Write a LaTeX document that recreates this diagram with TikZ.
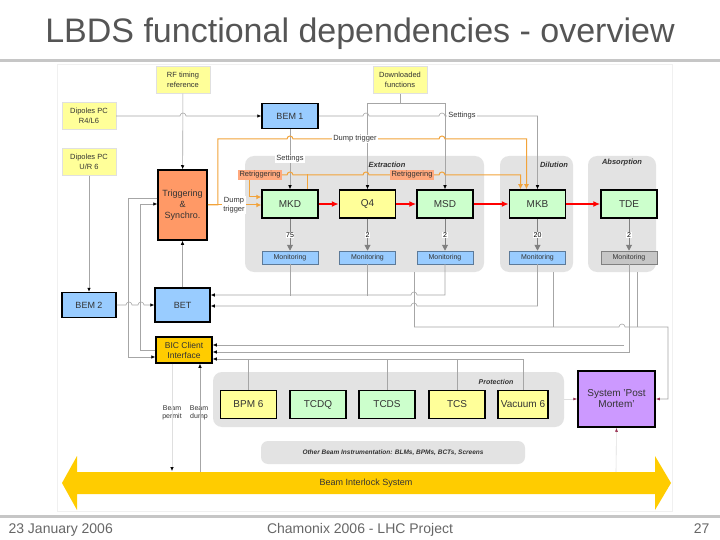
\documentclass[tikz,border=0pt]{standalone}
\usepackage{fontspec}
\setmainfont{Liberation Sans}
\usetikzlibrary{arrows.meta,calc,positioning}
\definecolor{BoxYellow}{HTML}{FFFF99}
\definecolor{BoxGreen}{HTML}{CCFFCC}
\definecolor{BoxBlue}{HTML}{99CCFF}
\definecolor{TrigOrange}{HTML}{FF9966}
\definecolor{BicGold}{HTML}{FFCC00}
\definecolor{PmViolet}{HTML}{CC99FF}
\definecolor{ZoneGray}{HTML}{E3E3E3}
\definecolor{DumpLine}{HTML}{F2A33A}
\definecolor{WireGray}{HTML}{A6A6A6}
\definecolor{TextGray}{HTML}{333333}
\definecolor{TitleGray}{HTML}{555555}
\definecolor{PmArrow}{HTML}{993355}

\begin{document}
\begin{tikzpicture}[x=1pt,y=-1pt,
    modbox/.style={draw=black,line width=1.5pt,minimum width=56,minimum height=28,inner sep=0,
                   align=center,text=TextGray,font=\fontsize{10}{11}\selectfont},
    src/.style={draw=black!12,fill=BoxYellow,minimum width=54,minimum height=27,inner sep=0,
                align=center,text=TextGray,font=\fontsize{7.5}{9.5}\selectfont},
    mon/.style={draw=BoxBlue!60!black,line width=0.4pt,fill=BoxBlue,minimum width=56,minimum height=13,
                inner sep=0,text=TextGray,font=\fontsize{7}{7.5}\selectfont},
    zone/.style={fill=ZoneGray,rounded corners=9pt,inner sep=0},
    zlabel/.style={text=TextGray,font=\fontsize{7.5}{8}\selectfont\bfseries\itshape},
    tag/.style={fill=white,inner sep=1pt,align=center,text=TextGray,font=\fontsize{7.5}{8.5}\selectfont},
    retag/.style={fill=TrigOrange!85,inner sep=1.5pt,text=TextGray,font=\fontsize{7.5}{8}\selectfont},
    num/.style={fill=white,inner sep=0.6pt,text=black,font=\fontsize{7}{8}\selectfont},
    wire/.style={draw=WireGray,line width=0.6pt},
    arr/.style={-{Latex[length=4pt,width=3.5pt,color=black]}},
    dump/.style={draw=DumpLine,line width=1pt,-{Latex[length=5pt,width=5pt]}},
    beam/.style={draw=red,line width=1.6pt,-{Latex[length=7pt,width=6pt]}},
    probe/.style={draw=gray,line width=1pt,-{Triangle[length=6pt,width=6pt]}},
    pmtip/.style={-{Latex[length=4pt,width=3pt,color=PmArrow]}}]
  \useasboundingbox (0,0) rectangle (720,540);
  % title and footer
  \node[anchor=base,text=TitleGray,font=\fontsize{34}{36}\selectfont] (title) at (360,43) {LBDS functional dependencies - overview};
  \draw[gray!45,line width=3pt] (0,61) -- (720,61);
  \draw[gray!45,line width=3pt] (0,516) -- (720,516);
  \node[anchor=base west,text=gray!80!black,font=\fontsize{14}{16}\selectfont] (date) at (5,533) {23 January 2006};
  \node[anchor=base,text=gray!80!black,font=\fontsize{14}{16}\selectfont] (event) at (360,533) {Chamonix 2006 - LHC Project};
  \node[anchor=base east,text=gray!80!black,font=\fontsize{14}{16}\selectfont] (page) at (713,533) {27};
  \draw[gray!12,fill=white] (57,64) rectangle (672,511);

  % zones
  \node[zone,minimum width=239,minimum height=116] (extr) at (364.5,214) {};
  \node[zone,minimum width=73,minimum height=116] (dil) at (536.5,214) {};
  \node[zone,minimum width=68,minimum height=116] (absb) at (622,214) {};
  \node[zone,minimum width=351,minimum height=55] (prot) at (388.5,399.5) {};
  \node[zone,minimum width=264,minimum height=23,rounded corners=7pt,zlabel,font=\fontsize{6.5}{7}\selectfont\bfseries\itshape] (obi) at (393,452.5) {Other Beam Instrumentation: BLMs, BPMs, BCTs, Screens};
  \node[zlabel] (extrlbl) at (387,165) {Extraction};
  \node[zlabel] (dillbl) at (554,165) {Dilution};
  \node[zlabel] (abslbl) at (622,163) {Absorption};
  \node[zlabel,font=\fontsize{7}{8}\selectfont\bfseries\itshape] (protlbl) at (496,382) {Protection};

  % sources
  \node[src] (rf) at (183,80) {RF timing\\reference};
  \node[src] (dl) at (400,80) {Downloaded\\functions};
  \node[src] (dip1) at (89,116) {Dipoles PC\\R4/L6};
  \node[src] (dip2) at (89,162) {Dipoles PC\\U/R 6};

  % control
  \node[modbox,fill=BoxBlue,minimum height=25,font=\fontsize{9}{10}\selectfont] (bem1) at (290,116) {BEM 1};
  \node[modbox,fill=TrigOrange,minimum width=49,minimum height=70,font=\fontsize{9}{11}\selectfont] (trig) at (182.5,205) {Triggering\\\&\\Synchro.};
  \node[modbox,fill=BoxBlue,minimum width=54,minimum height=25,font=\fontsize{9}{10}\selectfont] (bem2) at (89,305) {BEM 2};
  \node[modbox,fill=BoxBlue,minimum width=55,minimum height=34,font=\fontsize{9}{10}\selectfont] (bet) at (182.5,305) {BET};
  \node[modbox,fill=BicGold,minimum height=26,font=\fontsize{8.5}{10}\selectfont] (bic) at (184,350) {BIC Client\\Interface};

  % extraction line
  \node[modbox,fill=BoxGreen] (mkd) at (290,204) {MKD};
  \node[modbox,fill=BoxYellow,right=20pt of mkd] (q4) {Q4};
  \node[modbox,fill=BoxGreen,right=20pt of q4] (msd) {MSD};
  \node[modbox,fill=BoxGreen,right=35pt of msd] (mkb) {MKB};
  \node[modbox,fill=BoxGreen,right=34pt of mkb] (tde) {TDE};
  \node[mon,below=32pt of mkd] (monmkd) {Monitoring};
  \node[mon,below=32pt of q4] (monq4) {Monitoring};
  \node[mon,below=32pt of msd] (monmsd) {Monitoring};
  \node[mon,below=32pt of mkb] (monmkb) {Monitoring};
  \node[mon,below=32pt of tde,fill=gray!45,draw=gray] (montde) {Monitoring};

  % protection
  \node[modbox,fill=BoxYellow] (bpm) at (248.5,404.5) {BPM 6};
  \node[modbox,fill=BoxGreen] (tcdq) at (318,404.5) {TCDQ};
  \node[modbox,fill=BoxGreen] (tcds) at (387,404.5) {TCDS};
  \node[modbox,fill=BoxYellow] (tcs) at (457,404.5) {TCS};
  \node[modbox,fill=BoxYellow,minimum width=50] (vac) at (523,404.5) {Vacuum 6};
  \node[modbox,fill=PmViolet,minimum width=77,minimum height=56] (pm) at (616.5,399) {System 'Post\\Mortem'};

  % beam interlock system
  \fill[BicGold] (62,483) -- (77,456) -- (77,472) -- (655,472) -- (655,456) -- (671,483)
    -- (655,510) -- (655,494) -- (77,494) -- (77,510) -- cycle;
  \node[text=TextGray,font=\fontsize{9}{10}\selectfont] (bis) at (366,483) {Beam Interlock System};
  \coordinate (bispermit) at (172,471);
  \coordinate (bisdump) at (200,472);
  \coordinate (bispm) at (616,472);
  \node[tag,fill=none,font=\fontsize{7}{8.5}\selectfont] (bpermit) at (172,413) {Beam\\permit};
  \node[tag,fill=none,font=\fontsize{7}{8.5}\selectfont] (bdump) at (199,413) {Beam\\dump};

  % inputs
  \draw[wire,arr] (rf) -- (trig);
  \draw[wire,arr] (dip1) -- (180,116) arc[start angle=180,end angle=0,radius=3pt] -- (bem1);
  \draw[wire,arr] (dip2) -- (bem2);
  \draw[wire,arr] (bem1.east) -- (363,116) arc[start angle=180,end angle=0,radius=3pt]
    -- (439,116) arc[start angle=180,end angle=0,radius=3pt] -| (mkb.north);
  \node[tag] (set2) at (462,116) {Settings};
  \draw[wire,arr] (bem1) -- (mkd);
  \draw[wire,arr] (dl.south) -- ++(0,10) -| (q4.north);
  \draw[wire,arr] (dl.south) ++(0,10) -| (msd.north);

  % dump trigger and retriggering
  \draw[dump] (trig.east) -- (trig.east -| mkd.west);
  \draw[dump] (trig.east) -- ++(10,0) |- (287,139) arc[start angle=180,end angle=0,radius=3pt]
    -- (439,139) arc[start angle=180,end angle=0,radius=3pt] -| ([xshift=-11pt]mkb.north);
  \node[tag] (dtag) at (355,139) {Dump trigger};
  \node[tag] (dtag2) at (234,205) {Dump\\trigger};
  \node[tag] (set1) at (290,159) {Settings};
  \node[retag] (rtg1) at (260,175) {Retriggering};
  \draw[dump] ([xshift=-11pt]rtg1.south) |- ([yshift=7pt]mkd.west);
  \draw[dump] (rtg1.east) -- (287,175) arc[start angle=180,end angle=0,radius=3pt]
    -- (363,175) arc[start angle=180,end angle=0,radius=3pt]
    -- (439,175) arc[start angle=180,end angle=0,radius=3pt] -| ([xshift=-17pt]mkb.north);
  \draw[draw=DumpLine,line width=1pt] ([xshift=17pt]mkd.north) -- ++(0,-15);
  \node[retag] (rtg2) at (412,175) {Retriggering};

  % beam path
  \draw[beam] (mkd) -- (q4);
  \draw[beam] (q4) -- (msd);
  \draw[beam] (msd) -- (mkb);
  \draw[beam] (mkb) -- (tde);
  \draw[probe] (mkd) -- node[num] {75} (monmkd);
  \draw[probe] (q4) -- node[num] {2} (monq4);
  \draw[probe] (msd) -- node[num] {2} (monmsd);
  \draw[probe] (mkb) -- node[num] {20} (monmkb);
  \draw[probe] (tde) -- node[num] {2} (montde);

  % monitoring
  \draw[wire] (monmkd.south) -- ++(0,32);
  \draw[wire] (monq4.south) -- ++(0,32);
  \draw[wire,arr] (monmsd.south) |- (417,295) arc[start angle=0,end angle=180,radius=3pt] -- ([yshift=10pt]bet.east);
  \draw[wire,arr] (monmkb.south) |- (417,306) arc[start angle=0,end angle=180,radius=3pt] -- ([yshift=-1pt]bet.east);
  \draw[wire,pmtip] ([xshift=50pt]extr.south) |- (619,327) arc[start angle=180,end angle=0,radius=3pt] -- (668,327) |- (pm.east);
  \draw[wire] ([xshift=16.5pt]dil.south) -- ++(0,55);
  \draw[wire] ([xshift=15pt]absb.south) -- ++(0,55);
  \draw[wire,arr] (montde.south) |- ([yshift=-2pt]bic.east);
  \draw[wire,arr] ([xshift=-5pt]montde.south |- 0,345) -- ([yshift=5pt]bic.east);

  % protection to BIC
  \draw[wire,arr] (vac.north) |- ([yshift=-9pt]bic.east);
  \draw[wire] (bpm.north) -- ++(0,-31);
  \draw[wire] (tcds.north) -- ++(0,-31);
  \draw[wire] (tcs.north) -- ++(0,-31);

  % left side
  \draw[wire,arr] ([yshift=7pt]trig.west) -- ++(-29,0) |- ([yshift=-7pt]bic.west);
  \draw[wire,arr] (bic.west) -- ++(-15,0) |- ([yshift=1pt]trig.west);
  \draw[wire,arr] (bem2.east) -- (126,305) arc[start angle=180,end angle=0,radius=3pt]
    -- (138,305) arc[start angle=180,end angle=0,radius=3pt] -- (bet.west);
  \draw[wire,arr] (bet) -- (trig);
  \draw[wire,arr] (bisdump) -- ([xshift=16pt]bic.south);
  \draw[draw=gray!25,line width=0.6pt,arr] ([xshift=-12pt]bic.south) -- (bispermit);

  % post mortem inputs
  \draw[draw=gray!25,line width=0.6pt,pmtip] (prot.east |- pm.west) -- (pm.west);
  \draw[draw=gray!25,line width=0.6pt,pmtip] (bispm) -- (pm.south);
\end{tikzpicture}
\end{document}
